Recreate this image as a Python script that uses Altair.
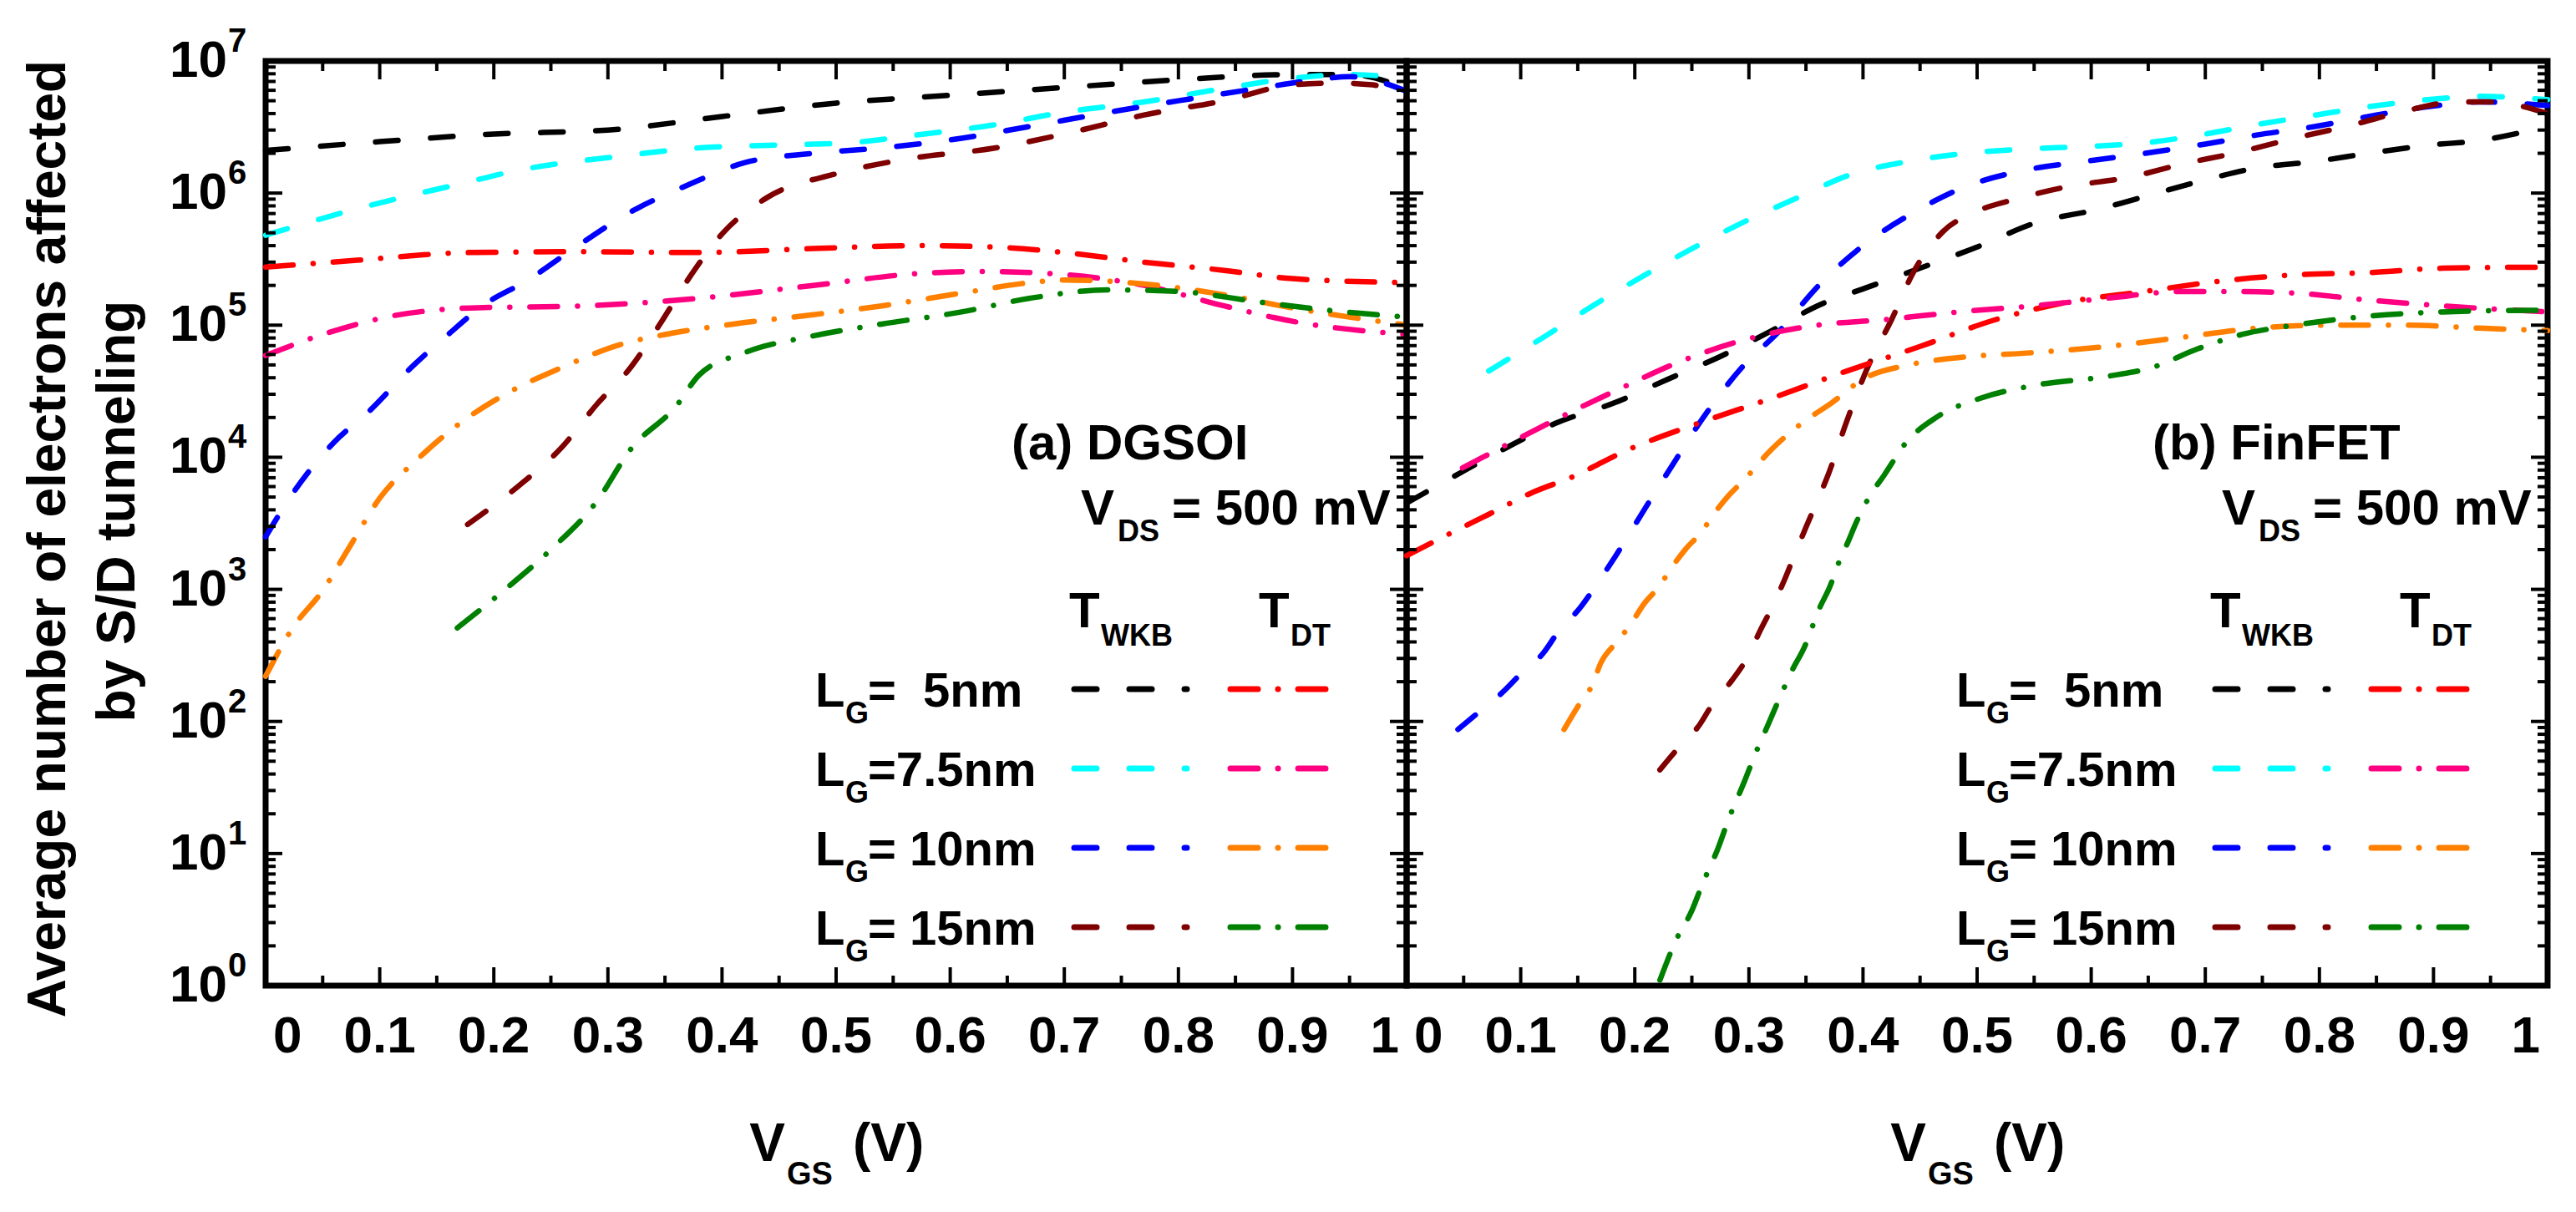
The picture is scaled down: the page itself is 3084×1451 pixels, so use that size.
import altair as alt
import pandas as pd

# ── Data (x = V_GS in V, n = average electron count) ──
# Panel (a) DGSOI
a_wkb5_x = [0, 0.1, 0.2, 0.3, 0.4, 0.5, 0.6, 0.7, 0.8, 0.9, 0.95, 1.0]
a_wkb5_n = [2.1e6, 2.45e6, 2.8e6, 3.0e6, 3.8e6, 4.8e6, 5.5e6, 6.3e6, 7.2e6, 7.9e6, 7.9e6, 6.2e6]

a_wkb75_x = [0, 0.07, 0.12, 0.17, 0.22, 0.31, 0.38, 0.44, 0.51, 0.57, 0.64, 0.70, 0.77, 0.84, 0.90, 0.95, 1.0]
a_wkb75_n = [4.8e5, 7.2e5, 9.3e5, 1.17e6, 1.48e6, 1.9e6, 2.2e6, 2.3e6, 2.4e6, 2.75e6, 3.3e6, 4.1e6,
             4.9e6, 6.2e6, 7.4e6, 7.9e6, 7.4e6]

a_wkb10_x = [0, 0.023, 0.06, 0.09, 0.13, 0.16, 0.19, 0.23, 0.27, 0.32, 0.37, 0.42, 0.48, 0.54,
             0.61, 0.67, 0.74, 0.80, 0.87, 0.92, 0.95, 1.0]
a_wkb10_n = [2.5e3, 5.2e3, 1.3e4, 2.2e4, 5.0e4, 8.5e4, 1.4e5, 2.2e5, 3.8e5, 7.2e5, 1.15e6, 1.7e6,
             2.0e6, 2.2e6, 2.6e6, 3.2e6, 4.1e6, 5.0e6, 6.2e6, 7.2e6, 7.6e6, 5.9e6]

a_wkb15_x = [0.177, 0.22, 0.26, 0.29, 0.32, 0.345, 0.37, 0.40, 0.44, 0.50, 0.56, 0.64, 0.70, 0.77,
             0.84, 0.90, 0.94, 0.97, 1.0]
a_wkb15_n = [3.1e3, 5.9e3, 1.2e4, 2.5e4, 4.8e4, 1.0e5, 2.2e5, 4.9e5, 9.3e5, 1.4e6, 1.8e6, 2.2e6,
             2.8e6, 3.9e6, 5.0e6, 6.6e6, 6.8e6, 6.6e6, 5.2e6]

a_dt5_x = [0, 0.08, 0.18, 0.28, 0.38, 0.48, 0.57, 0.64, 0.70, 0.77, 0.84, 0.90, 1.0]
a_dt5_n = [2.75e5, 3.1e5, 3.55e5, 3.6e5, 3.55e5, 3.8e5, 4.0e5, 3.9e5, 3.55e5, 3.0e5, 2.6e5, 2.25e5, 2.1e5]

a_dt75_x = [0, 0.05, 0.11, 0.18, 0.28, 0.38, 0.48, 0.57, 0.63, 0.69, 0.77, 0.84, 0.90, 1.0]
a_dt75_n = [5.9e4, 8.5e4, 1.17e5, 1.35e5, 1.4e5, 1.6e5, 2.0e5, 2.45e5, 2.55e5, 2.45e5, 2.0e5,
            1.4e5, 1.07e5, 8.5e4]

a_dt10_x = [0, 0.023, 0.05, 0.075, 0.10, 0.135, 0.17, 0.21, 0.26, 0.31, 0.35, 0.41, 0.48, 0.54,
            0.61, 0.67, 0.70, 0.77, 0.84, 0.90, 1.0]
a_dt10_n = [2.2e2, 5.0e2, 9.8e2, 2.2e3, 4.9e3, 1.0e4, 1.8e4, 3.0e4, 4.8e4, 7.1e4, 8.5e4, 1.02e5,
            1.2e5, 1.4e5, 1.75e5, 2.1e5, 2.2e5, 2.05e5, 1.7e5, 1.35e5, 1.0e5]

a_dt15_x = [0.168, 0.21, 0.25, 0.29, 0.32, 0.36, 0.38, 0.42, 0.48, 0.54, 0.61, 0.67, 0.74, 0.80,
            0.87, 0.93, 1.0]
a_dt15_n = [5.1e2, 1.0e3, 2.0e3, 4.6e3, 1.15e4, 2.45e4, 4.2e4, 6.2e4, 8.3e4, 1.02e5, 1.26e5,
            1.6e5, 1.85e5, 1.8e5, 1.5e5, 1.3e5, 1.15e5]

# Panel (b) FinFET
b_wkb5_x = [0, 0.042, 0.085, 0.13, 0.183, 0.229, 0.275, 0.32, 0.36, 0.405, 0.45, 0.503, 0.55,
            0.608, 0.654, 0.70, 0.745, 0.797, 0.843, 0.895, 0.94, 1.0]
b_wkb5_n = [4.5e3, 7.2e3, 1.15e4, 1.8e4, 2.6e4, 3.9e4, 5.8e4, 9.1e4, 1.4e5, 1.95e5, 2.7e5, 4.0e5,
            5.9e5, 7.6e5, 9.8e5, 1.26e6, 1.55e6, 1.74e6, 2.0e6, 2.3e6, 2.5e6, 3.2e6]

b_wkb75_x = [0.072, 0.118, 0.163, 0.209, 0.255, 0.30, 0.346, 0.386, 0.44, 0.49, 0.54, 0.595,
             0.647, 0.70, 0.745, 0.797, 0.843, 0.895, 0.94, 1.0]
b_wkb75_n = [4.5e4, 7.9e4, 1.4e5, 2.4e5, 4.0e5, 6.3e5, 9.5e5, 1.35e6, 1.74e6, 2.0e6, 2.15e6,
             2.25e6, 2.4e6, 2.8e6, 3.3e6, 3.9e6, 4.5e6, 5.1e6, 5.4e6, 5.1e6]

b_wkb10_x = [0.045, 0.063, 0.084, 0.10, 0.12, 0.133, 0.152, 0.166, 0.183, 0.209, 0.235, 0.26,
             0.294, 0.327, 0.36, 0.40, 0.444, 0.49, 0.54, 0.595, 0.647, 0.70, 0.745, 0.797,
             0.843, 0.895, 0.94, 1.0]
b_wkb10_n = [87, 117, 166, 229, 331, 479, 724, 1.07e3, 1.78e3, 4.1e3, 9.3e3, 2.0e4, 4.8e4, 9.1e4,
             1.95e5, 4.0e5, 7.1e5, 1.12e6, 1.48e6, 1.74e6, 2.0e6, 2.35e6, 2.75e6, 3.2e6, 3.8e6,
             4.5e6, 4.9e6, 4.6e6]

b_wkb15_x = [0.222, 0.236, 0.257, 0.268, 0.285, 0.299, 0.31, 0.32, 0.331, 0.34, 0.35, 0.36,
             0.369, 0.386, 0.405, 0.425, 0.444, 0.47, 0.497, 0.536, 0.58, 0.634, 0.68, 0.725,
             0.778, 0.83, 0.876, 0.92, 0.95, 1.0]
b_wkb15_n = [43, 60, 95, 135, 204, 309, 490, 724, 1.17e3, 1.82e3, 2.95e3, 4.7e3, 7.2e3, 1.9e4,
             5.0e4, 1.1e5, 2.5e5, 5.1e5, 7.1e5, 9.1e5, 1.12e6, 1.32e6, 1.66e6, 2.0e6, 2.6e6,
             3.3e6, 4.2e6, 4.9e6, 4.9e6, 4.0e6]

b_dt5_x = [0, 0.04, 0.072, 0.11, 0.147, 0.19, 0.255, 0.32, 0.386, 0.45, 0.516, 0.58, 0.647,
           0.712, 0.778, 0.843, 0.908, 1.0]
b_dt5_n = [1.8e3, 2.7e3, 3.7e3, 5.4e3, 7.2e3, 1.1e4, 1.8e4, 2.8e4, 4.5e4, 6.9e4, 1.1e5, 1.5e5,
           1.8e5, 2.15e5, 2.4e5, 2.5e5, 2.7e5, 2.75e5]

b_dt75_x = [0.049, 0.092, 0.144, 0.19, 0.242, 0.288, 0.32, 0.36, 0.418, 0.484, 0.55, 0.614,
            0.68, 0.725, 0.778, 0.843, 0.908, 1.0]
b_dt75_n = [8.3e3, 1.3e4, 2.2e4, 3.4e4, 5.4e4, 7.4e4, 8.7e4, 1.0e5, 1.1e5, 1.26e5, 1.4e5, 1.6e5,
            1.8e5, 1.8e5, 1.75e5, 1.55e5, 1.4e5, 1.26e5]

b_dt10_x = [0.138, 0.152, 0.163, 0.17, 0.184, 0.196, 0.208, 0.222, 0.231, 0.245, 0.259, 0.268,
            0.282, 0.299, 0.31, 0.32, 0.346, 0.373, 0.40, 0.44, 0.49, 0.55, 0.614, 0.68, 0.745,
            0.81, 0.876, 0.94, 1.0]
b_dt10_n = [87, 138, 191, 275, 398, 537, 776, 1.07e3, 1.41e3, 2.04e3, 2.75e3, 3.6e3, 5.1e3,
            7.2e3, 9.3e3, 1.15e4, 1.8e4, 2.6e4, 3.9e4, 5.0e4, 5.75e4, 6.2e4, 6.9e4, 8.1e4,
            9.5e4, 1.0e5, 1.0e5, 9.5e4, 9.1e4]

b_dt15_x = [0.222, 0.236, 0.25, 0.259, 0.273, 0.282, 0.296, 0.306, 0.315, 0.327, 0.338, 0.348,
            0.362, 0.371, 0.38, 0.387, 0.394, 0.406, 0.418, 0.438, 0.464, 0.503, 0.55, 0.614,
            0.654, 0.693, 0.732, 0.778, 0.843, 0.908, 1.0]
b_dt15_n = [1.1, 2.2, 3.7, 5.8, 11, 18, 35, 58, 87, 151, 245, 355, 724, 1.05e3, 1.7e3, 2.3e3,
            3.2e3, 5.1e3, 7.2e3, 1.3e4, 2.0e4, 2.8e4, 3.5e4, 4.1e4, 4.8e4, 6.6e4, 8.5e4, 1.0e5,
            1.17e5, 1.26e5, 1.3e5]

# ── Series styling ───────────────────────────────────────────────────────────
series_keys = ["wkb5", "wkb75", "wkb10", "wkb15", "dt5", "dt75", "dt10", "dt15"]
series_colors = ["#000000", "#00FFFF", "#0000FF", "#7F0000",
                 "#FF0000", "#FF0080", "#FF8000", "#008000"]
WKB_DASH = [27, 39]
DT_DASH = [33, 24, 0.1, 24]
series_dash = [WKB_DASH] * 4 + [DT_DASH] * 4

legend_rows = ["=\u00a0\u00a05nm", "=7.5nm", "= 10nm", "= 15nm"]

# Axis ticks and labels
x_first, x_last = [0], [1]
x_inner = [0.1, 0.2, 0.3, 0.4, 0.5, 0.6, 0.7, 0.8, 0.9]
x_major = [0.1, 0.2, 0.3, 0.4, 0.5, 0.6, 0.7, 0.8, 0.9]
x_minor = [0.05, 0.15, 0.25, 0.35, 0.45, 0.55, 0.65, 0.75, 0.85, 0.95]
y_decades = [1, 10, 100, 1e3, 1e4, 1e5, 1e6, 1e7]
y_exps = ["0", "1", "2", "3", "4", "5", "6", "7"]
y_minor = [k * d for d in [1, 10, 100, 1e3, 1e4, 1e5, 1e6] for k in range(2, 10)]

curves = [
    ("a", "wkb5", a_wkb5_x, a_wkb5_n), ("a", "wkb75", a_wkb75_x, a_wkb75_n),
    ("a", "wkb10", a_wkb10_x, a_wkb10_n), ("a", "wkb15", a_wkb15_x, a_wkb15_n),
    ("a", "dt5", a_dt5_x, a_dt5_n), ("a", "dt75", a_dt75_x, a_dt75_n),
    ("a", "dt10", a_dt10_x, a_dt10_n), ("a", "dt15", a_dt15_x, a_dt15_n),
    ("b", "wkb5", b_wkb5_x, b_wkb5_n), ("b", "wkb75", b_wkb75_x, b_wkb75_n),
    ("b", "wkb10", b_wkb10_x, b_wkb10_n), ("b", "wkb15", b_wkb15_x, b_wkb15_n),
    ("b", "dt5", b_dt5_x, b_dt5_n), ("b", "dt75", b_dt75_x, b_dt75_n),
    ("b", "dt10", b_dt10_x, b_dt10_n), ("b", "dt15", b_dt15_x, b_dt15_n),
]
rows = []
for panel_tag, key, xs_, ns_ in curves:
    for x, n in zip(xs_, ns_):
        rows.append({"panel": panel_tag, "series": key, "vgs": x, "n": n})
df = pd.DataFrame(rows)

# ── Layout constants ─────────────────────────────────────────────────────────
W, H = 1366, 1107
FONT = "Liberation Sans, Arial, sans-serif"
BIG, MID, SUB = 62, 60, 36

xscale = alt.Scale(domain=[0, 1], nice=False, zero=False)
yscale = alt.Scale(type="log", domain=[1, 1e7], nice=False)
one = pd.DataFrame({"k": [0]})


def txt(s, px, py, size=MID, align="left", baseline="alphabetic", angle=0):
    return (
        alt.Chart(one)
        .mark_text(text=s, align=align, baseline=baseline, angle=angle,
                   fontSize=size, font=FONT, fontWeight="bold", color="black")
        .encode(x=alt.value(px), y=alt.value(py))
    )


def tick_layers():
    out = []
    for vals, ln in [(x_major, 22), (x_minor, 12)]:
        d = pd.DataFrame({"v": vals})
        for y0, y1 in [(H, H - ln), (0, ln)]:
            out.append(
                alt.Chart(d).mark_rule(color="black", strokeWidth=4)
                .encode(x=alt.X("v:Q", scale=xscale, axis=None),
                        y=alt.value(y0), y2=alt.value(y1))
            )
    for vals, ln in [(y_decades[1:-1], 20), (y_minor, 12)]:
        d = pd.DataFrame({"v": vals})
        for x0, x1 in [(0, ln), (W, W - ln)]:
            out.append(
                alt.Chart(d).mark_rule(color="black", strokeWidth=4)
                .encode(y=alt.Y("v:Q", scale=yscale, axis=None),
                        x=alt.value(x0), x2=alt.value(x1))
            )
    return out


def xlabel_layers():
    out = []
    for vals, align, dx in [(x_first, "left", 9), (x_inner, "center", 0), (x_last, "right", -9)]:
        d = pd.DataFrame({"v": vals})
        out.append(
            alt.Chart(d)
            .mark_text(align=align, baseline="alphabetic", dx=dx, fontSize=BIG, font=FONT,
                       fontWeight="bold", color="black")
            .encode(x=alt.X("v:Q", scale=xscale, axis=None),
                    y=alt.value(H + 80),
                    text=alt.Text("v:Q", format="~g"))
        )
    return out


def legend_layers(tag_text):
    out = [
        txt(tag_text, 893, 477),
        txt("V", 976, 555), txt("DS", 1020, 575, SUB), txt("= 500 mV", 1085, 555),
        txt("T", 962, 678), txt("WKB", 1000, 700, SUB),
        txt("T", 1189, 678), txt("DT", 1227, 700, SUB),
    ]
    for i, lab in enumerate(legend_rows):
        base_y = 773 + 95 * i
        line_y = 752 + 95 * i
        out += [txt("L", 658, base_y, 58), txt("G", 694, base_y + 20, SUB),
                txt(lab, 721, base_y, 58)]
        for x1, x2, col, dash in [(968, 1103, series_colors[i], WKB_DASH),
                                  (1155, 1269, series_colors[i + 4], DT_DASH)]:
            out.append(
                alt.Chart(one).mark_rule(color=col, strokeWidth=7, strokeCap="round",
                                         strokeDash=dash)
                .encode(x=alt.value(x1), x2=alt.value(x2), y=alt.value(line_y))
            )
    return out


def ylabel_layers():
    d = pd.DataFrame({"v": y_decades, "e": y_exps, "b": ["10"] * len(y_decades)})
    base = alt.Chart(d).encode(y=alt.Y("v:Q", scale=yscale, axis=None))
    tens = base.mark_text(align="right", baseline="middle", fontSize=BIG, font=FONT,
                          fontWeight="bold", color="black").encode(
        x=alt.value(-46), text="b:N")
    sups = base.mark_text(align="left", baseline="middle", dy=-23, fontSize=40, font=FONT,
                          fontWeight="bold", color="black").encode(
        x=alt.value(-45), text="e:N")
    return [tens, sups,
            txt("Average number of electrons affected", -240, 572, 64, align="center", angle=270),
            txt("by S/D tunneling", -157, 539, 64, align="center", angle=270)]


def xtitle_layers():
    c = W / 2
    return [txt("V", c - 61, H + 210, 64, align="right"),
            txt("GS", c - 59, H + 238, 38),
            txt("(V)", c + 20, H + 210, 64)]


def panel(tag, tag_text, with_ylabels):
    lines = (
        alt.Chart(df).transform_filter(alt.datum.panel == tag)
        .mark_line(strokeWidth=6.5, strokeCap="round", interpolate="monotone")
        .encode(
            x=alt.X("vgs:Q", scale=xscale, axis=None),
            y=alt.Y("n:Q", scale=yscale, axis=None),
            color=alt.Color("series:N", legend=None,
                            scale=alt.Scale(domain=series_keys, range=series_colors)),
            strokeDash=alt.StrokeDash("series:N", legend=None,
                                      scale=alt.Scale(domain=series_keys, range=series_dash)),
        )
    )
    layers = ([lines] + tick_layers() + xlabel_layers() + legend_layers(tag_text)
              + xtitle_layers())
    if with_ylabels:
        layers += ylabel_layers()
    return alt.layer(*layers).properties(width=W, height=H)


chart = (
    alt.hconcat(panel("a", "(a) DGSOI", True), panel("b", "(b) FinFET", False),
                spacing=0, bounds="flush")
    .properties(padding={"left": 15, "top": 18, "right": 5, "bottom": 5},
                background="white")
    .configure_view(stroke="black", strokeWidth=7)
)

chart.save("out.html", embed_options={"renderer": "svg", "actions": False})
